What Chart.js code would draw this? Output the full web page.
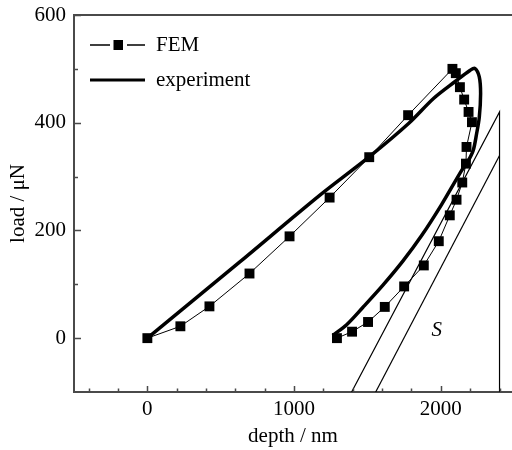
<!DOCTYPE html>
<html>
<head>
<meta charset="utf-8">
<script src="https://cdn.jsdelivr.net/npm/chart.js@4.4.1/dist/chart.umd.min.js"></script>
<style>
  html, body { margin: 0; padding: 0; background: #fff; overflow: hidden; }
</style>
</head>
<body>
<canvas id="c" width="512" height="450"></canvas>
<script>
// FEM simulation (squares), loading then unloading
const femDepth = [0, 225, 423, 696, 969, 1242, 1512, 1777, 2079, 2102, 2130, 2159, 2189, 2212,
                  2175, 2171, 2146, 2107, 2061, 1986, 1884, 1750, 1618, 1504, 1395, 1292];
const femLoad  = [0, 22, 59, 120, 189, 261, 336, 414, 500, 492, 466, 443, 420, 401,
                  355, 324, 289, 257, 228, 180, 135, 96, 58, 30, 12, 0];

// experiment curve (thick line)
const expDepth = [0, 628, 1174, 1509, 1782, 1950, 2100, 2198, 2232, 2262, 2271, 2262, 2244,
                  2221, 2184, 2141, 2005, 1868, 1741, 1604, 1468, 1358, 1263];
const expLoad  = [0, 141, 265, 336, 399, 445, 477, 497, 501, 485, 454, 410, 380,
                  349, 328, 311, 248, 190, 143, 98, 57, 25, 5];

// stiffness construction lines
const sDepthA = [1392, 2400, 2400];
const sLoadA  = [-100, 420, -100];
const sDepthB = [1556, 2400];
const sLoadB  = [-100, 339];

const xTicks = [0, 1000, 2000];
const yTicks = [0, 200, 400, 600];
const xMinor = [-400, -200, 200, 400, 600, 800, 1200, 1400, 1600, 1800, 2200, 2400];
const yMinor = [100, 300, 500];

const pts = (xs, ys) => xs.map((v, i) => ({ x: v, y: ys[i] }));

const serif = '"Liberation Serif", "Times New Roman", serif';
const axisColor = '#4a4a4a';

const decorations = {
  id: 'decorations',
  afterDraw(chart) {
    const { ctx, chartArea: a, scales: { x, y } } = chart;
    ctx.save();
    // inward tick marks
    ctx.strokeStyle = axisColor;
    ctx.lineWidth = 1.5;
    ctx.beginPath();
    xTicks.concat(xMinor).forEach(v => {
      const px = Math.round(x.getPixelForValue(v)) + 0.5;
      const len = xTicks.includes(v) ? 6 : 3.5;
      ctx.moveTo(px, a.bottom);
      ctx.lineTo(px, a.bottom - len);
    });
    yTicks.concat(yMinor).forEach(v => {
      const py = Math.round(y.getPixelForValue(v)) + 0.5;
      const len = yTicks.includes(v) ? 7 : 4;
      ctx.moveTo(a.left, py);
      ctx.lineTo(a.left + len, py);
    });
    ctx.stroke();

    // legend
    ctx.strokeStyle = '#000';
    ctx.fillStyle = '#000';
    ctx.lineWidth = 1.3;
    ctx.beginPath();
    ctx.moveTo(90, 45); ctx.lineTo(110, 45);
    ctx.moveTo(127, 45); ctx.lineTo(145, 45);
    ctx.stroke();
    ctx.fillRect(113.5, 40, 9.5, 10);
    ctx.lineWidth = 3;
    ctx.beginPath();
    ctx.moveTo(90, 80); ctx.lineTo(145, 80);
    ctx.stroke();
    ctx.font = '21px ' + serif;
    ctx.textBaseline = 'middle';
    ctx.textAlign = 'left';
    ctx.fillText('FEM', 156, 45);
    ctx.fillText('experiment', 156, 80);

    // S label
    ctx.font = 'italic 21px ' + serif;
    ctx.textAlign = 'center';
    ctx.fillText('S', x.getPixelForValue(1973), y.getPixelForValue(14));
    ctx.restore();
  }
};

new Chart(document.getElementById('c'), {
  type: 'scatter',
  data: {
    datasets: [
      {
        label: 'FEM',
        data: pts(femDepth, femLoad),
        showLine: true,
        borderColor: '#000',
        borderWidth: 1,
        backgroundColor: '#000',
        pointStyle: 'rect',
        pointRadius: 7,
        pointBorderWidth: 0,
        tension: 0,
        order: 0
      },
      {
        label: 'experiment',
        data: pts(expDepth, expLoad),
        showLine: true,
        borderColor: '#000',
        borderWidth: 3.5,
        pointRadius: 0,
        tension: 0.3,
        order: 1
      },
      {
        data: pts(sDepthA, sLoadA),
        showLine: true,
        borderColor: '#000',
        borderWidth: 1.2,
        pointRadius: 0,
        order: 2
      },
      {
        data: pts(sDepthB, sLoadB),
        showLine: true,
        borderColor: '#000',
        borderWidth: 1.2,
        pointRadius: 0,
        order: 2
      }
    ]
  },
  options: {
    responsive: false,
    animation: false,
    devicePixelRatio: 1,
    layout: { padding: 0, autoPadding: false },
    plugins: { legend: { display: false }, tooltip: { enabled: false } },
    scales: {
      x: {
        type: 'linear',
        position: 'bottom',
        min: -500,
        max: 2485,
        afterBuildTicks: s => { s.ticks = xTicks.map(v => ({ value: v })); },
        afterFit: s => { s.height = 58; s.paddingLeft = 0; s.paddingRight = 0; },
        grid: { display: false, drawTicks: false },
        border: { color: axisColor, width: 2 },
        ticks: {
          color: '#000',
          font: { family: serif, size: 21 },
          padding: 5,
          callback: v => String(v)
        },
        title: {
          display: true,
          text: 'depth / nm',
          color: '#000',
          font: { family: serif, size: 21 },
          padding: { top: 0, bottom: 1 }
        }
      },
      x2: {
        type: 'linear',
        position: 'top',
        min: -500,
        max: 2485,
        afterBuildTicks: s => { s.ticks = []; },
        afterFit: s => { s.height = 15; s.paddingLeft = 0; s.paddingRight = 0; },
        grid: { display: false, drawTicks: false },
        border: { color: axisColor, width: 2 },
        ticks: { display: false }
      },
      y: {
        type: 'linear',
        position: 'left',
        min: -100,
        max: 600,
        afterBuildTicks: s => { s.ticks = yTicks.map(v => ({ value: v })); },
        afterFit: s => { s.width = 74; s.paddingTop = 0; s.paddingBottom = 0; },
        grid: { display: false, drawTicks: false },
        border: { color: axisColor, width: 2 },
        ticks: {
          color: '#000',
          font: { family: serif, size: 21 },
          padding: 8,
          callback: v => String(v)
        },
        title: {
          display: true,
          text: 'load / μN',
          color: '#000',
          font: { family: serif, size: 21 },
          padding: 6
        }
      }
    }
  },
  plugins: [decorations]
});
</script>
</body>
</html>
